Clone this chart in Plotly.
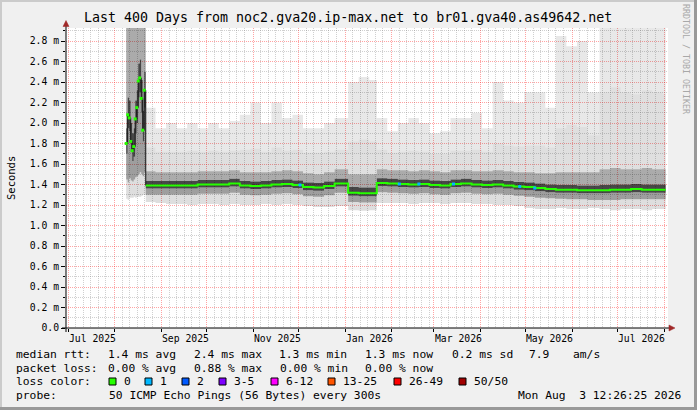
import plotly.graph_objects as go

# ---------------- data (values in milliseconds) ----------------
X_START = "2025-06-29 12:26:25"
X_END = "2026-08-03 12:26:25"
DATA_END = "2026-08-02 00:00"

# noisy first two weeks (daily)
early_dates = ["2025-08-08 12:00", "2025-08-09 12:00", "2025-08-10 12:00", "2025-08-11 12:00",
               "2025-08-12 12:00", "2025-08-13 12:00", "2025-08-14 12:00", "2025-08-15 12:00",
               "2025-08-16 12:00", "2025-08-17 12:00", "2025-08-18 12:00", "2025-08-19 12:00",
               "2025-08-20 12:00"]
early_med = [1.80, 2.08, 2.05, 1.82, 1.73, 1.77, 2.04, 2.15, 2.41, 2.44, 2.24, 1.93, 2.32]
early_p0 = [1.26, 1.25, 1.27, 1.27, 1.27, 1.28, 1.27, 1.28, 1.28, 1.28, 1.29, 1.30, 1.30]
early_p10 = [1.45, 1.42, 1.46, 1.44, 1.43, 1.45, 1.47, 1.48, 1.50, 1.52, 1.50, 1.48, 1.52]
early_p25 = [1.70, 1.95, 1.92, 1.72, 1.63, 1.67, 1.90, 2.00, 2.25, 2.30, 2.10, 1.82, 2.15]
early_p75 = [1.95, 2.25, 2.22, 2.00, 1.90, 1.95, 2.22, 2.32, 2.58, 2.62, 2.42, 2.12, 2.50]
early_p90 = [3.00, 3.00, 3.00, 3.00, 3.00, 3.00, 3.00, 3.00, 3.00, 3.00, 3.00, 3.00, 3.00]
early_p97 = [3.00, 3.00, 3.00, 3.00, 3.00, 3.00, 3.00, 3.00, 3.00, 3.00, 3.00, 3.00, 3.00]
early_max = [3.00, 3.00, 3.00, 3.00, 3.00, 3.00, 3.00, 3.00, 3.00, 3.00, 3.00, 3.00, 3.00]

# stable period (weekly bins)
stable_dates = ["2025-08-21 12:00", "2025-08-28", "2025-09-04", "2025-09-11", "2025-09-18",
                "2025-09-25", "2025-10-02", "2025-10-09", "2025-10-16", "2025-10-23",
                "2025-10-30", "2025-11-06", "2025-11-13", "2025-11-20", "2025-11-27",
                "2025-12-04", "2025-12-11", "2025-12-18", "2025-12-25", "2026-01-03",
                "2026-01-10", "2026-01-17", "2026-01-22", "2026-01-29", "2026-02-05",
                "2026-02-12", "2026-02-19", "2026-02-26", "2026-03-05", "2026-03-12",
                "2026-03-19", "2026-03-26", "2026-04-02", "2026-04-09", "2026-04-16",
                "2026-04-23", "2026-04-30", "2026-05-07", "2026-05-14", "2026-05-21",
                "2026-05-28", "2026-06-04", "2026-06-11", "2026-06-19", "2026-06-26",
                "2026-07-03", "2026-07-10", "2026-07-17", "2026-07-24", "2026-07-31"]
med = [1.39, 1.39, 1.39, 1.39, 1.39, 1.40, 1.40, 1.40, 1.41, 1.39,
       1.385, 1.39, 1.40, 1.405, 1.395, 1.375, 1.37, 1.385, 1.41, 1.32,
       1.315, 1.315, 1.415, 1.41, 1.405, 1.40, 1.405, 1.395, 1.39, 1.405,
       1.41, 1.40, 1.395, 1.40, 1.39, 1.38, 1.375, 1.365, 1.355, 1.35,
       1.35, 1.345, 1.345, 1.345, 1.35, 1.35, 1.355, 1.35, 1.35, 1.35]
p0 = [1.23, 1.22, 1.21, 1.21, 1.20, 1.21, 1.21, 1.20, 1.21, 1.20,
      1.20, 1.21, 1.20, 1.21, 1.20, 1.19, 1.18, 1.18, 1.19, 1.15,
      1.145, 1.15, 1.22, 1.22, 1.22, 1.21, 1.22, 1.22, 1.21, 1.22,
      1.22, 1.21, 1.21, 1.20, 1.20, 1.19, 1.17, 1.16, 1.16, 1.17,
      1.16, 1.16, 1.17, 1.16, 1.15, 1.16, 1.16, 1.15, 1.16, 1.16]
p10 = [1.30, 1.30, 1.30, 1.30, 1.30, 1.31, 1.31, 1.31, 1.32, 1.30,
       1.295, 1.30, 1.31, 1.315, 1.305, 1.285, 1.28, 1.295, 1.32, 1.23,
       1.225, 1.225, 1.325, 1.32, 1.315, 1.31, 1.315, 1.305, 1.30, 1.315,
       1.32, 1.31, 1.305, 1.31, 1.30, 1.29, 1.28, 1.27, 1.265, 1.26,
       1.255, 1.255, 1.25, 1.25, 1.25, 1.255, 1.255, 1.255, 1.255, 1.255]
p25 = [1.36, 1.36, 1.36, 1.36, 1.36, 1.37, 1.37, 1.37, 1.38, 1.36,
       1.355, 1.36, 1.37, 1.375, 1.365, 1.345, 1.34, 1.355, 1.38, 1.29,
       1.285, 1.285, 1.385, 1.38, 1.375, 1.37, 1.375, 1.365, 1.36, 1.375,
       1.38, 1.37, 1.365, 1.37, 1.36, 1.35, 1.345, 1.335, 1.325, 1.32,
       1.32, 1.315, 1.315, 1.315, 1.32, 1.32, 1.325, 1.32, 1.32, 1.32]
p75 = [1.435, 1.435, 1.435, 1.435, 1.435, 1.445, 1.445, 1.445, 1.455, 1.435,
       1.43, 1.435, 1.445, 1.45, 1.44, 1.42, 1.415, 1.43, 1.455, 1.375,
       1.37, 1.37, 1.46, 1.455, 1.45, 1.445, 1.45, 1.44, 1.435, 1.45,
       1.455, 1.445, 1.44, 1.445, 1.435, 1.425, 1.42, 1.41, 1.40, 1.395,
       1.395, 1.39, 1.39, 1.395, 1.40, 1.40, 1.405, 1.40, 1.40, 1.40]
p90 = [1.53, 1.52, 1.52, 1.52, 1.52, 1.53, 1.53, 1.53, 1.54, 1.52,
       1.52, 1.52, 1.53, 1.54, 1.53, 1.51, 1.50, 1.52, 1.55, 1.50,
       1.50, 1.50, 1.55, 1.54, 1.54, 1.53, 1.54, 1.53, 1.52, 1.54,
       1.54, 1.53, 1.53, 1.54, 1.53, 1.52, 1.52, 1.51, 1.51, 1.52,
       1.52, 1.52, 1.52, 1.55, 1.56, 1.55, 1.55, 1.56, 1.55, 1.55]
p97 = [1.76, 1.72, 1.72, 1.72, 1.73, 1.72, 1.73, 1.72, 1.73, 1.74,
       1.75, 1.72, 1.76, 1.73, 1.74, 1.71, 1.71, 1.72, 1.74, 1.82,
       1.84, 1.82, 1.74, 1.71, 1.72, 1.73, 1.72, 1.70, 1.70, 1.73,
       1.73, 1.74, 1.72, 1.80, 1.78, 1.77, 1.78, 1.78, 1.76, 1.95,
       1.98, 1.96, 1.88, 2.30, 2.35, 2.30, 2.28, 2.32, 2.30, 2.28]
pmax = [2.15, 1.95, 2.00, 1.95, 2.00, 1.95, 2.00, 1.95, 2.02, 2.08,
        2.20, 2.00, 2.20, 2.05, 2.08, 1.95, 1.95, 2.00, 2.05, 2.40,
        2.45, 2.42, 2.05, 1.92, 2.00, 2.05, 2.00, 1.90, 1.92, 2.05,
        2.05, 2.10, 1.95, 2.40, 2.22, 2.20, 2.30, 2.30, 2.15, 2.85,
        2.75, 2.80, 2.30, 3.00, 3.00, 3.00, 3.00, 3.00, 3.00, 3.00]

# spots where the median had 1 lost ping
loss1_dates = ["2025-12-02", "2026-02-06", "2026-02-19", "2026-03-14", "2026-04-27", "2026-05-07"]
loss1_vals = [1.395, 1.405, 1.405, 1.405, 1.38, 1.365]

# axis labels
y_ticks = [0.0, 0.2, 0.4, 0.6, 0.8, 1.0, 1.2, 1.4, 1.6, 1.8, 2.0, 2.2, 2.4, 2.6, 2.8]
y_ticktext = ["0.0", "0.2 m", "0.4 m", "0.6 m", "0.8 m", "1.0 m", "1.2 m", "1.4 m",
              "1.6 m", "1.8 m", "2.0 m", "2.2 m", "2.4 m", "2.6 m", "2.8 m"]
x_label_dates = ["2025-07-17", "2025-09-17", "2025-11-17", "2026-01-17",
                 "2026-03-17", "2026-05-17", "2026-07-17"]
x_label_text = ["Jul 2025", "Sep 2025", "Nov 2025", "Jan 2026", "Mar 2026", "May 2026", "Jul 2026"]

title_text = "Last 400 Days from noc2.gva20.ip-max.net to br01.gva40.as49642.net"
rtt_label = "median rtt:"
rtt_stats = ["1.4 ms avg", "2.4 ms max", "1.3 ms min", "1.3 ms now", "0.2 ms sd", "7.9", "am/s"]
pl_label = "packet loss:"
pl_stats = ["0.00 % avg", "0.88 % max", "0.00 % min", "0.00 % now"]
lc_label = "loss color:"
loss_names = ["0", "1", "2", "3-5", "6-12", "13-25", "26-49", "50/50"]
loss_colors = ["#26ff00", "#00b8ff", "#0059ff", "#7e00ff", "#ff00ff", "#ff5500", "#ff0000", "#a10000"]
probe_label = "probe:"
probe_text = "50 ICMP Echo Pings (56 Bytes) every 300s"
stamp_text = "Mon Aug\u00a0\u00a03 12:26:25 2026"

# ---------------- layout helpers (pixels -> paper) ----------------
W, H = 697, 410
L, R, T, B = 66, 668, 28, 328


def px(x):
    return (x - L) / (R - L)


def py(y):
    return (B - y) / (B - T)


MONO = "DejaVu Sans Mono"

fig = go.Figure()

# smoke bands
all_dates = early_dates + stable_dates + [DATA_END]


def joined(e, s):
    v = e + s
    return v + [v[-1]]


levels = [joined(early_p0, p0), joined(early_p10, p10), joined(early_p25, p25),
          joined(early_med, med), joined(early_p75, p75), joined(early_p90, p90),
          joined(early_p97, p97), joined(early_max, pmax)]
fills = [None, "rgba(0,0,0,0.13)", "rgba(0,0,0,0.38)", "rgba(0,0,0,0.72)",
         "rgba(0,0,0,0.72)", "rgba(0,0,0,0.33)", "rgba(0,0,0,0.125)", "rgba(0,0,0,0.09)"]
for lv, fc in zip(levels, fills):
    fig.add_trace(go.Scatter(
        x=all_dates, y=lv, mode="lines",
        line=dict(width=0, shape="hv", color="rgba(0,0,0,0)"),
        fill="tonexty" if fc else "none", fillcolor=fc,
        hoverinfo="skip", showlegend=False))

# early median (dark connectors + green dots)
fig.add_trace(go.Scatter(
    x=early_dates + [stable_dates[0]], y=early_med + [med[0]], mode="lines",
    line=dict(width=1, shape="hv", color="#111111"), hoverinfo="skip", showlegend=False))
fig.add_trace(go.Scatter(
    x=early_dates, y=early_med, mode="markers",
    marker=dict(symbol="square", size=3, color=loss_colors[0], line=dict(width=0)),
    hoverinfo="skip", showlegend=False))

# stable median line
fig.add_trace(go.Scatter(
    x=stable_dates + [DATA_END], y=med + [med[-1]], mode="lines",
    line=dict(width=2, shape="hv", color=loss_colors[0]), hoverinfo="skip", showlegend=False))
fig.add_trace(go.Scatter(
    x=loss1_dates, y=loss1_vals, mode="markers",
    marker=dict(symbol="square", size=3, color=loss_colors[1], line=dict(width=0)),
    hoverinfo="skip", showlegend=False))

# grid positions
month_starts = []
x_minor = []
for yr, mo in [(2025, m) for m in range(7, 13)] + [(2026, m) for m in range(1, 9)]:
    month_starts.append(f"{yr}-{mo:02d}-01")
for yr, mo in [(2025, m) for m in range(7, 13)] + [(2026, m) for m in range(1, 8)]:
    for d in (6, 11, 16, 21, 26):
        x_minor.append(f"{yr}-{mo:02d}-{d:02d}")
y_minor = [round(0.1 + 0.2 * i, 1) for i in range(15)]

MAJ = "rgba(255,0,0,0.36)"
MIN = "rgba(110,110,110,0.32)"
DASH = "1px,1px"

fig.update_layout(
    width=W, height=H,
    margin=dict(l=L, r=W - R, t=T, b=H - B, pad=0),
    paper_bgcolor="#f0f0f0", plot_bgcolor="#ffffff",
    showlegend=False,
    font=dict(family=MONO, size=10, color="#000000"),
    xaxis=dict(type="date", range=[X_START, X_END], tickmode="array",
               tickvals=month_starts, ticktext=[""] * len(month_starts),
               showgrid=True, gridcolor=MAJ, griddash=DASH, gridwidth=1,
               ticks="outside", ticklen=3, tickcolor="#000000",
               minor=dict(tickvals=x_minor, showgrid=True, gridcolor=MIN, griddash=DASH,
                          gridwidth=1, ticks=""),
               zeroline=False, showline=False, fixedrange=True),
    yaxis=dict(range=[0, 2.927], tickmode="array", tickvals=y_ticks, ticktext=y_ticktext,
               showgrid=True, gridcolor=MAJ, griddash=DASH, gridwidth=1,
               ticks="outside", ticklen=4, tickcolor="#000000",
               tickfont=dict(family=MONO, size=9.75, color="#000000"),
               minor=dict(tickvals=y_minor, showgrid=True, gridcolor=MIN, griddash=DASH,
                          gridwidth=1, ticks="outside", ticklen=2, tickcolor="#000000"),
               zeroline=False, showline=False, fixedrange=True),
)

ann = []
ann.append(dict(x=px(348), y=py(17.5), xref="paper", yref="paper", text=title_text,
                showarrow=False, xanchor="center", yanchor="middle",
                font=dict(family=MONO, size=13.3, color="#000000")))
ann.append(dict(x=px(11), y=py(178), xref="paper", yref="paper", text="Seconds",
                showarrow=False, textangle=-90, xanchor="center", yanchor="middle",
                font=dict(family=MONO, size=10.5, color="#000000")))
ann.append(dict(x=px(686), y=py(59), xref="paper", yref="paper", text="RRDTOOL / TOBI OETIKER",
                showarrow=False, textangle=90, xanchor="center", yanchor="middle",
                font=dict(family=MONO, size=8.3, color="#a8a8a8")))
for d, t in zip(x_label_dates, x_label_text):
    ann.append(dict(x=d, y=py(338), xref="x", yref="paper", text=t, showarrow=False,
                    xanchor="center", yanchor="middle",
                    font=dict(family=MONO, size=9.75, color="#000000")))


def leg(x, y, text, anchor="left"):
    ann.append(dict(x=px(x), y=py(y), xref="paper", yref="paper", text=text, showarrow=False,
                    xanchor=anchor, yanchor="middle", borderpad=0,
                    font=dict(family=MONO, size=11.3, color="#000000")))


ROW = [354.5, 368, 381.5, 395]
leg(15, ROW[0], rtt_label)
for xx, t in zip([107, 193, 278, 364, 451, 528, 572], rtt_stats):
    leg(xx, ROW[0], t)
leg(15, ROW[1], pl_label)
for xx, t in zip([107, 193, 279, 364], pl_stats):
    leg(xx, ROW[1], t)
leg(15, ROW[2], lc_label)
box_x = [109, 145, 182, 219, 271, 328, 394, 459]
shapes = []
for bx, name, c in zip(box_x, loss_names, loss_colors):
    shapes.append(dict(type="rect", xref="paper", yref="paper",
                       x0=px(bx), x1=px(bx + 7), y0=py(385), y1=py(378),
                       fillcolor=c, line=dict(color="#000000", width=1), layer="above"))
    leg(bx + 13.5, ROW[2], name)
leg(15, ROW[3], probe_label)
leg(108, ROW[3], probe_text)
leg(682, ROW[3], stamp_text, anchor="right")

fig.update_layout(annotations=ann)

AX = "#000000"
ARR = "#a02828"
shapes.append(dict(type="line", xref="paper", yref="paper", x0=px(62), x1=px(669),
                   y0=py(328), y1=py(328), line=dict(color=AX, width=1), layer="above"))
shapes.append(dict(type="line", xref="paper", yref="paper", x0=px(66), x1=px(66),
                   y0=py(332), y1=py(25), line=dict(color=AX, width=1), layer="above"))
shapes.append(dict(type="path", xref="paper", yref="paper",
                   path=f"M {px(66)},{py(20.5)} L {px(63)},{py(26.5)} L {px(69)},{py(26.5)} Z",
                   fillcolor=ARR, line=dict(color=ARR, width=0.5), layer="above"))
shapes.append(dict(type="path", xref="paper", yref="paper",
                   path=f"M {px(675)},{py(328)} L {px(669)},{py(325)} L {px(669)},{py(331)} Z",
                   fillcolor=ARR, line=dict(color=ARR, width=0.5), layer="above"))
shapes.append(dict(type="rect", xref="paper", yref="paper", x0=px(0), x1=px(2), y0=py(410), y1=py(0),
                   fillcolor="#cbcbcb", line=dict(width=0), layer="above"))
shapes.append(dict(type="rect", xref="paper", yref="paper", x0=px(0), x1=px(697), y0=py(2), y1=py(0),
                   fillcolor="#cbcbcb", line=dict(width=0), layer="above"))
shapes.append(dict(type="rect", xref="paper", yref="paper", x0=px(694), x1=px(697), y0=py(410), y1=py(0),
                   fillcolor="#999999", line=dict(width=0), layer="above"))
shapes.append(dict(type="rect", xref="paper", yref="paper", x0=px(0), x1=px(697), y0=py(410), y1=py(407),
                   fillcolor="#999999", line=dict(width=0), layer="above"))
fig.update_layout(shapes=shapes)

fig.write_html("out.html", config={"displayModeBar": False},
               post_script="document.body.style.margin='0';document.body.style.overflow='hidden';")
